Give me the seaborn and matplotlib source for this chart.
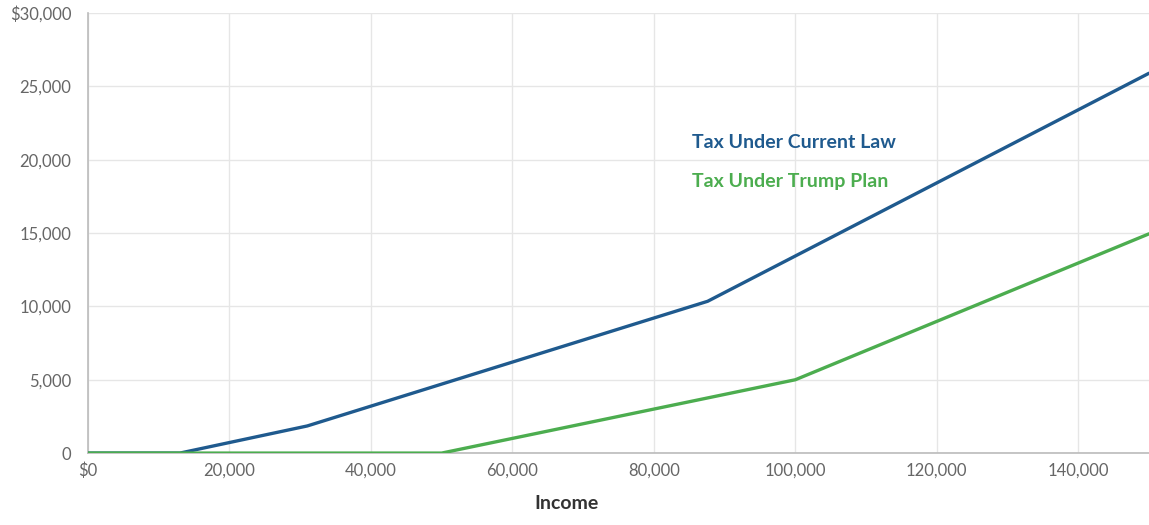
import matplotlib
matplotlib.use("Agg")
import matplotlib.pyplot as plt
import matplotlib.ticker as mticker
import pandas as pd
import seaborn as sns

# Tax owed by income, at the kinks of each schedule
current_income = [0, 13000, 31000, 87600, 150000]
current_tax = [0, 0, 1850, 10350, 25900]
trump_income = [0, 50000, 100000, 150000]
trump_tax = [0, 0, 5000, 14950]

series_names = ["Tax Under Current Law", "Tax Under Trump Plan"]
series_colors = ["#1f5a8e", "#4cad4f"]

x_ticks = [0, 20000, 40000, 60000, 80000, 100000, 120000, 140000]
y_ticks = [0, 5000, 10000, 15000, 20000, 25000, 30000]

df = pd.concat([
    pd.DataFrame({"Income": current_income, "Tax": current_tax, "Series": series_names[0]}),
    pd.DataFrame({"Income": trump_income, "Tax": trump_tax, "Series": series_names[1]}),
])

sns.set_theme(style="white")
plt.rcParams["font.family"] = ["Lato", "DejaVu Sans"]

fig = plt.figure(figsize=(11.49, 5.25), dpi=100)
ax = fig.add_axes([0.0766, 0.137, 0.9234, 0.838])

sns.lineplot(data=df, x="Income", y="Tax", hue="Series",
             palette=dict(zip(series_names, series_colors)),
             linewidth=2.4, legend=False, ax=ax, zorder=3)

ax.set_xlim(0, 150000)
ax.set_ylim(0, 30000)
ax.set_xticks(x_ticks)
ax.set_yticks(y_ticks)
ax.xaxis.set_major_formatter(mticker.FuncFormatter(
    lambda v, p: "$0" if v == 0 else f"{int(v):,}"))
ax.yaxis.set_major_formatter(mticker.FuncFormatter(
    lambda v, p: "$30,000" if v == 30000 else f"{int(v):,}"))

ax.grid(True, color="#e6e6e6", linewidth=1.0, zorder=0)
for side in ["top", "right"]:
    ax.spines[side].set_visible(False)
ax.spines["left"].set_color("#bbbbbb")
ax.spines["bottom"].set_color("#bbbbbb")
ax.spines["left"].set_linewidth(1.2)
ax.spines["bottom"].set_linewidth(1.2)

ax.tick_params(axis="both", length=0, labelsize=12, labelcolor="#666666")
ax.tick_params(axis="x", pad=7)
ax.tick_params(axis="y", pad=12)

ax.set_ylabel("")
ax.set_xlabel("Income", fontsize=14, fontweight="bold", color="#333333")
ax.xaxis.set_label_coords(0.451, -0.095)

ax.text(0.569, 0.705, series_names[0], transform=ax.transAxes,
        color=series_colors[0], fontsize=14, fontweight="bold", va="center")
ax.text(0.569, 0.618, series_names[1], transform=ax.transAxes,
        color=series_colors[1], fontsize=14, fontweight="bold", va="center")

fig.savefig("out.png", dpi=100, facecolor="white")
